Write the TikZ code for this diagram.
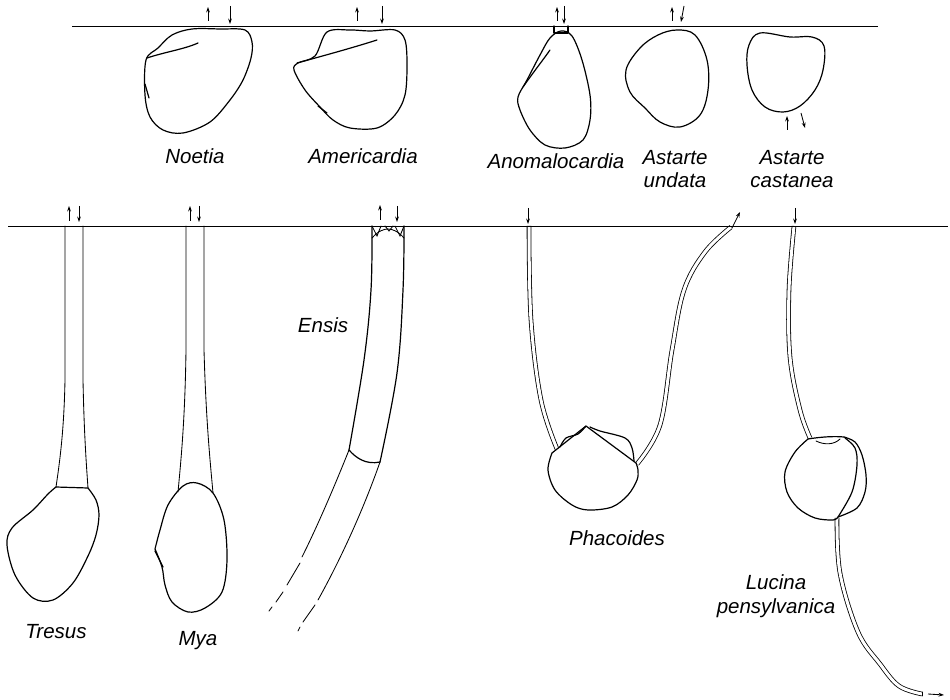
\documentclass[tikz,border=0pt]{standalone}
\usepackage{fontspec}
\setmainfont{Liberation Sans}
\usetikzlibrary{arrows.meta}
\begin{document}
\begin{tikzpicture}[x=1pt,y=-1pt,
  outline/.style={line width=1.2pt, line join=round, line cap=round},
  fine/.style={line width=0.85pt, line cap=round},
  surface/.style={line width=0.9pt},
  flow/.style={line width=0.85pt, -{Stealth[length=5.5pt,width=3.8pt]}},
  tube/.style={double distance=3pt, line width=0.8pt},
  lbl/.style={font=\fontsize{20.5}{23}\selectfont\itshape, inner sep=0pt, anchor=base},
]
\useasboundingbox (0,0) rectangle (950,700);

% ---------- shallow burrowers ----------
% Noetia
\draw[outline] plot[smooth cycle, tension=0.55] coordinates {(192,29) (220,29) (245,30) (252,42) (251,58) (243,80) (230,100) (210,122) (183,133) (163,130) (150,117) (145,95) (146,60) (158,48) (172,35)};
\draw[outline] (147,58) .. controls (165,52) and (185,49) .. (198,43);
\draw[outline] (145,84) -- (149,98);
\draw[flow] (208,21) -- (208,7);
\draw[flow] (230,6) -- (230,24);

% Americardia
\draw[outline] plot[smooth cycle, tension=0.55] coordinates {(327,32) (350,30) (370,31) (395,30) (405,40) (407,65) (405,95) (395,115) (377,128) (350,128) (333,120) (320,107) (305,90) (294,70) (298,63) (315,56)};
\draw[outline] (297,63) .. controls (330,54) and (355,47) .. (377,40);
\draw[outline] (318,106) -- (327,113);
\draw[flow] (357,21) -- (357,7);
\draw[flow] (382,6) -- (382,24);

% Anomalocardia
\draw[outline] (554,26) -- (554,33) -- (568,33) -- (568,26);
\draw[outline] plot[smooth cycle, tension=0.55] coordinates {(561,31) (572,36) (582,60) (590,95) (590,120) (583,140) (565,148) (545,145) (530,130) (520,110) (518,97) (527,80) (540,55) (550,38)};
\draw[outline] (523,87) .. controls (535,70) and (543,60) .. (550,50);
\draw[flow] (557,21) -- (557,7);
\draw[flow] (564,6) -- (564,24);

% Astarte undata
\draw[outline] plot[smooth cycle, tension=0.6] coordinates {(677,30) (695,35) (707,60) (708,90) (700,115) (680,127) (660,122) (645,108) (630,92) (626,70) (640,48) (658,35)};
\draw[flow] (672,21) -- (672,7);
\draw[flow] (684,6) -- (681,22);

% Astarte castanea
\draw[outline] plot[smooth cycle, tension=0.6] coordinates {(760,33) (790,37) (812,37) (824,46) (823,70) (815,90) (800,106) (783,112) (765,107) (752,90) (747,65) (749,45)};
\draw[flow] (787,130) -- (787,116);
\draw[flow] (801,113) -- (805,128);

% ---------- deep burrowers ----------
% Tresus
\draw[fine] (65,226) -- (65,380) .. controls (64,430) and (60,460) .. (56,487);
\draw[fine] (83,226) -- (83,380) .. controls (84,430) and (86,460) .. (88,488);
\draw[outline] (56,487) -- (88,488);
\draw[outline] plot[smooth, tension=0.55] coordinates {(88,488) (96,500) (99,515) (96,535) (88,556) (73,583) (53,600) (33,598) (15,575) (7,545) (12,528) (33,510) (48,494) (56,487)};
\draw[flow] (69,221) -- (69,206);
\draw[flow] (79,206) -- (79,222);

% Mya
\draw[fine] (186,226) -- (186,350) .. controls (185,420) and (181,460) .. (178,492);
\draw[fine] (204,226) -- (204,350) .. controls (206,420) and (210,460) .. (213,493);
\draw[outline] plot[smooth, tension=0.55] coordinates {(155,549) (160,530) (168,505) (183,486) (197,483) (213,493) (224,520) (227,560) (222,592) (205,608) (188,612) (172,602) (165,585) (162,567) (155,549)};
\draw[outline] (155,551) -- (163,567);
\draw[flow] (190,221) -- (190,206);
\draw[flow] (199,206) -- (199,222);

% Ensis
\draw[outline] plot[smooth, tension=0.6] coordinates {(372,226) (371,290) (364,360) (349,450)};
\draw[outline] plot[smooth, tension=0.6] coordinates {(404,226) (403,290) (397,373) (380,462)};
\draw[outline] (349,450) .. controls (356,458) and (366,465) .. (380,462);
\draw[fine] (372,238) .. controls (378,231) and (384,229) .. (388,229) .. controls (392,229) and (398,231) .. (404,238);
\draw[fine] (372,226) -- (377,236) -- (381,226);
\draw[fine] (385,226) -- (389,231) -- (393,226);
\draw[fine] (395,226) -- (400,236) -- (404,226);
\draw[fine] (349,450) .. controls (335,485) and (318,525) .. (302,557);
\draw[fine] (300,563) -- (287,585);
\draw[fine] (283,592) -- (276,602);
\draw[fine] (272,607) -- (269,611);
\draw[fine] (380,462) .. controls (365,505) and (343,555) .. (318,600);
\draw[fine] (315,605) -- (303,622);
\draw[fine] (300,627) -- (298,631);
\draw[flow] (380,220) -- (380,205);
\draw[flow] (397,206) -- (397,222);

% Phacoides
\draw[tube] plot[smooth, tension=0.6] coordinates {(529,226) (531,320) (541,400) (557,449)};
\draw[tube] plot[smooth, tension=0.6] coordinates {(637,464) (660,425) (672,350) (684,290) (705,252) (731,227)};
\draw[outline] (552,453) -- (586,426) -- (636,463);
\draw[outline] plot[smooth, tension=0.55] coordinates {(552,453) (548,470) (555,490) (572,505) (588,510) (612,507) (628,495) (637,480) (638,470) (636,463)};
\draw[outline] plot[smooth, tension=0.55] coordinates {(560,447) (566,438) (578,434) (586,426)};
\draw[outline] plot[smooth, tension=0.55] coordinates {(590,427) (600,431) (625,438) (632,448) (634,461)};
\draw[flow] (528,208) -- (528,224);
\draw[flow] (732,228) -- (740,212);

% Lucina pensylvanica
\draw[tube] plot[smooth, tension=0.6] coordinates {(794,226) (789,290) (790,357) (800,410) (810,438)};
\draw[tube] plot[smooth, tension=0.6] coordinates {(837,518) (840,573) (858,632) (880,664) (899,686) (922,694)};
\draw[fine] (922,692) -- (922,696);
\draw[outline] plot[smooth, tension=0.55] coordinates {(808,439) (795,452) (785,472) (787,492) (798,508) (815,518) (833,520) (838,517)};
\draw[outline] plot[smooth, tension=0.55] coordinates {(844,437) (855,442) (862,455) (866,475) (865,492) (857,508) (838,517)};
\draw[outline] (808,439) .. controls (820,437) and (834,436) .. (844,437);
\draw[fine] (816,441) .. controls (824,445) and (834,445) .. (840,439);
\draw[outline] plot[smooth, tension=0.55] coordinates {(845,438) (855,448) (857,465) (852,492) (838,517)};
\draw[flow] (795,208) -- (795,224);
\draw[flow] (928,694) -- (944,695);

% ---------- sediment surfaces ----------
\draw[surface] (72,26) -- (878,26);
\draw[surface] (8,226) -- (948,226);

% ---------- names ----------
\node[lbl] (noetia) at (195,164) {Noetia};
\node[lbl] (americardia) at (363,164) {Americardia};
\node[lbl] (anomalocardia) at (556,169) {Anomalocardia};
\node[lbl] (undataA) at (675,165) {Astarte};
\node[lbl] (undataB) at (675,188) {undata};
\node[lbl] (castaneaA) at (792,165) {Astarte};
\node[lbl] (castaneaB) at (792,188) {castanea};
\node[lbl] (tresus) at (56,638) {Tresus};
\node[lbl] (mya) at (198,645) {Mya};
\node[lbl] (ensis) at (323,333) {Ensis};
\node[lbl] (phacoides) at (617,545) {Phacoides};
\node[lbl] (lucinaA) at (776,589) {Lucina};
\node[lbl] (lucinaB) at (776,613) {pensylvanica};
\end{tikzpicture}
\end{document}
